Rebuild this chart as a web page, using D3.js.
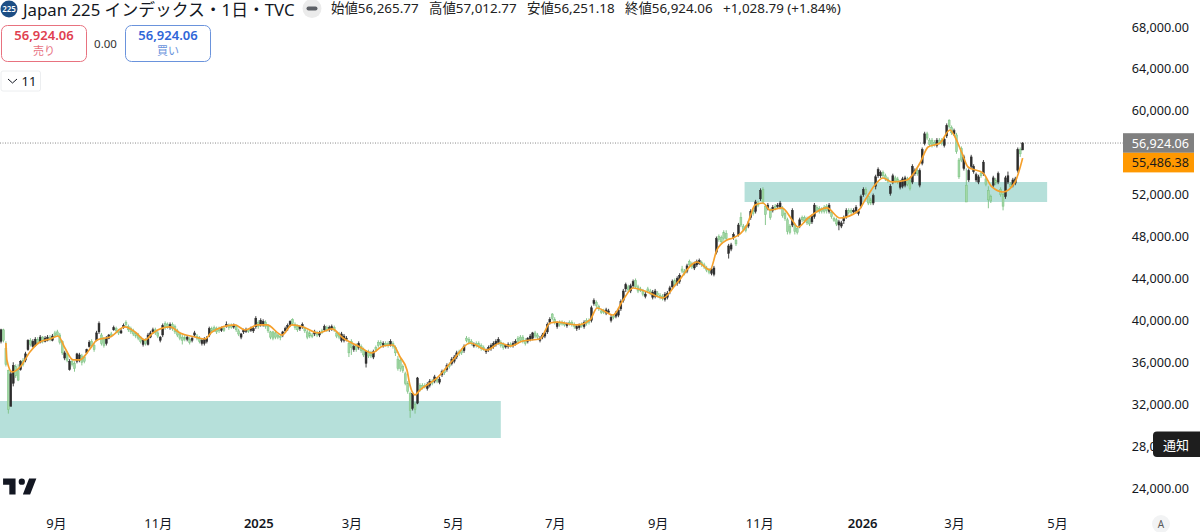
<!DOCTYPE html>
<html lang="ja"><head><meta charset="utf-8">
<style>html,body{margin:0;padding:0;background:#fff;overflow:hidden}svg{display:block}text{font-family:"Noto Sans","Noto Sans CJK JP",sans-serif}</style>
<script src="https://cdn.jsdelivr.net/npm/d3@7"></script></head><body><svg id="c" width="1200" height="532"></svg>
<script>
// prices in hundreds of yen, one entry per trading day
const opens=[380,391,373,352,318,340,356,352,353,362,362,372,381,375,376,382,379,384,380,381,
384,381,388,389,386,380,364,368,353,361,359,361,362,366,365,369,375,380,376,381,
389,386,383,378,383,387,391,392,390,388,393,398,394,392,390,388,386,384,377,381,
377,384,389,391,388,381,386,397,396,393,396,394,390,387,384,384,382,382,381,386,
385,383,378,378,380,386,392,393,392,392,391,392,395,395,395,394,394,390,384,389,
390,391,391,390,394,398,396,396,398,394,389,389,388,386,385,386,390,392,396,401,
396,394,392,394,392,389,388,386,387,388,386,390,391,393,391,392,393,388,387,381,
381,382,378,380,372,376,374,375,372,359,370,369,365,374,379,379,376,378,378,377,
378,374,363,362,356,349,340,330,316,320,321,338,338,338,335,338,342,342,344,341,
348,352,353,358,359,361,365,370,371,371,383,382,380,376,378,378,376,374,370,372,
373,375,377,379,379,377,375,375,377,376,378,383,384,384,381,380,382,383,388,386,
381,384,385,389,398,406,401,394,398,398,397,395,398,398,396,392,393,396,394,400,
400,400,416,417,413,409,409,407,408,400,404,404,405,411,419,430,432,428,433,438,
432,430,428,423,430,428,422,423,426,424,423,420,422,428,432,438,435,437,449,447,
447,456,454,450,453,454,455,453,450,448,445,444,465,480,479,484,483,464,468,479,
476,482,498,490,489,490,498,505,504,512,516,525,509,507,505,505,509,509,508,507,
502,496,490,491,491,488,490,498,498,497,497,494,499,508,507,506,508,509,504,503,
497,496,491,490,495,499,505,505,504,504,502,509,520,525,518,515,512,528,538,538,
541,538,535,521,532,536,535,527,528,529,535,534,532,540,543,529,550,569,578,572,
572,570,567,572,572,567,576,591,584,578,577,553,564,545,529,534,547,542,534,532,
540,540,535,524,518,529,534,532,525,520,518,532,530,529,531,543,563,562.66];
const closes=[391,381,358,315,349,357,347,343,361,358,368,381,377,380,382,379,384,380,383,384,
382,385,385,386,379,369,369,362,361,358,354,368,367,360,361,372,379,376,372,388,
397,378,376,383,386,386,393,390,388,390,395,396,391,389,387,385,383,380,381,378,
386,388,391,388,385,384,395,393,394,396,392,389,386,383,381,382,384,379,383,388,
383,380,381,382,383,392,390,391,389,390,392,391,396,393,394,395,391,387,387,391,
391,390,392,392,402,394,400,399,394,390,384,383,384,384,384,389,392,395,399,397,
393,391,394,396,390,384,385,385,389,386,388,389,394,391,393,394,391,385,384,387,
385,383,369,374,375,372,378,371,367,370,366,366,370,372,376,377,378,377,376,380,
375,369,354,354,352,340,332,314,330,315,345,334,336,337,339,342,340,346,342,344,
351,350,357,356,363,365,369,368,369,375,381,379,378,377,376,375,373,373,372,374,
376,378,380,382,376,374,376,377,376,378,380,380,381,380,378,383,385,388,385,384,
383,386,388,396,401,402,398,398,396,397,396,397,397,396,394,394,395,395,398,397,
398,412,419,414,411,408,408,410,409,403,403,407,410,418,428,434,429,433,437,432,
428,429,425,425,428,426,427,428,424,422,421,425,426,431,437,434,440,443,447,445,
452,453,451,454,456,457,453,451,448,446,449,450,478,477,475,478,478,471,472,482,
473,491,491,487,486,493,504,502,513,510,524,513,501,510,498,508,507,510,512,500,
497,485,484,505,485,484,496,496,495,493,492,499,510,505,504,504,504,505,510,499,
496,492,494,493,498,505,503,503,505,508,504,518,525,521,512,512,519,537,544,541,
538,535,533,528,538,533,532,532,535,536,530,526,547,543,540,543,563,578,574,568,
567,568,572,570,569,573,586,585,579,581,561,537,553,556,513,543,556,547,539,537,
538,551,530,515,514,536,531,540,520,509,536,538,528,534,535,563,558.95,569.24];
const highs=[392,392,380,353,352,360,358,358,362,364,370,382,383,382,384,384,386,385,385,386,
386,387,390,391,388,381,371,370,363,363,361,369,369,368,367,373,381,382,378,390,
399,388,384,385,387,389,395,394,391,392,397,400,396,394,392,389,388,385,382,383,
388,390,393,393,390,385,397,399,398,398,398,396,392,389,386,386,386,384,384,390,
387,385,383,384,385,394,394,395,394,394,394,394,399,397,397,397,396,392,388,392,
393,392,394,394,404,400,402,401,400,396,390,390,390,387,387,390,394,397,400,402,
398,396,395,398,394,391,390,388,391,390,390,392,396,395,395,396,395,390,389,389,
387,385,380,382,377,378,380,377,374,371,372,371,372,376,381,381,380,380,380,382,
380,376,366,364,358,351,342,332,332,322,346,340,340,340,341,344,344,348,346,346,
353,354,359,360,365,367,371,372,373,377,385,384,382,379,380,380,378,376,373,376,
378,380,382,384,381,379,377,379,379,380,382,385,386,386,383,384,387,389,390,388,
385,388,390,398,403,407,403,399,400,400,399,398,400,400,398,396,397,398,400,402,
402,414,421,419,415,411,411,412,411,405,406,409,412,420,430,436,434,435,439,440,
434,432,430,427,432,430,429,430,428,426,425,427,428,433,439,440,442,445,452,449,
454,458,456,456,458,459,457,455,452,450,451,452,480,482,481,486,486,473,474,484,
478,493,503,492,491,495,506,507,515,514,526,527,511,512,507,510,511,512,514,509,
504,498,492,507,493,490,498,500,500,499,499,501,512,510,509,508,510,511,512,505,
499,498,496,495,500,507,507,507,507,510,506,520,527,527,520,517,521,539,546,543,
543,540,537,530,540,538,537,534,537,538,537,536,549,545,545,545,565,580,580,574,
574,572,574,574,574,575,588,592,586,583,579,555,566,558,545,545,558,549,541,539,
542,553,537,528,520,538,536,542,527,522,538,542,532,536,537,565,565,570.13];
const lows=[378,379,356,311,318,337,345,342,352,356,360,371,375,374,375,377,378,378,379,380,
380,380,384,385,377,367,362,360,352,356,351,359,360,357,359,368,374,374,370,380,
387,376,374,376,382,384,390,388,386,387,392,394,389,387,385,383,381,378,375,376,
376,383,387,386,383,379,384,391,392,391,390,387,384,381,377,380,380,377,379,384,
381,378,376,376,378,384,388,389,387,388,389,389,393,391,392,392,389,385,382,387,
388,388,389,388,392,392,394,394,392,388,382,381,382,382,381,384,388,390,394,395,
391,389,390,392,388,382,383,383,385,384,384,387,389,389,389,390,389,383,382,379,
379,380,365,367,370,370,372,369,365,355,364,364,363,370,374,375,374,375,374,375,
373,366,352,351,350,338,330,307,314,311,320,332,334,335,333,336,338,340,340,339,
346,348,351,354,357,359,363,366,367,369,379,377,376,374,374,373,371,371,368,370,
371,373,375,377,374,372,373,373,374,374,376,378,379,378,376,378,380,381,383,382,
379,382,383,387,396,400,396,392,394,395,394,393,395,394,392,390,391,393,392,395,
396,398,414,412,409,406,406,405,407,398,401,402,403,409,417,427,427,426,431,430,
426,427,423,421,426,424,420,421,422,420,419,418,420,425,430,432,433,435,445,443,
445,451,449,448,451,453,451,449,446,444,443,442,463,475,473,476,476,459,466,477,
471,480,489,485,484,488,496,500,502,508,514,511,491,505,496,503,505,507,506,498,
495,482,482,489,482,482,488,494,493,491,490,492,497,503,502,502,502,502,502,497,
494,490,486,488,492,497,501,501,502,502,500,507,518,519,510,510,510,525,536,536,
536,533,531,519,530,531,530,525,526,527,528,524,530,538,538,527,548,567,572,566,
565,566,565,568,567,565,574,583,577,576,559,535,551,543,513,532,545,540,532,530,
536,538,528,507,512,527,529,530,518,505,516,530,526,527,529,541,556,562.51];
// moving-average line: bar number and level (hundreds of yen)
const maBars=[2,2.4,4.5,7.8,11.8,15.9,20,23.3,26.1,29.4,32.2,36.3,39.2,44.5,50.6,54.7,58.8,62,69,73.1,79.2,83.3,86.1,95.5,99.6,104.9,108.6,114.7,118.8,123.3,129.4,135.1,139.6,146.5,151.4,155.9,160,162.9,165.7,166.9,169,171,178,184.5,191.4,198.4,203.7,207.8,213,220,224.1,226.9,235.1,240.4,243.3,249.8,253.9,258,263.7,270.2,275.9,284.1,289.4,292.2,296.3,298.8,304.5,307.8,311,313.9,318.8,322.9,325.3,329.4,337.1,342.4,349.8,352.7,356.7,360,363.7,369.8,375.1,378.4,383.3,387.3,389.4,392.2,394.7,400.8,404.5,409,413.9,417];
const maValues=[378.4,362.2,350.7,355.5,369.8,379.4,382.2,385.1,373.6,362.2,362.2,372.7,381.3,384.1,393.7,388.9,381.3,388,393.7,388,384.1,382.2,388.9,395.6,390.8,395.6,395.6,386,395.6,393.7,388,391.8,383.2,374.6,368.9,375.5,376.5,365,352.6,338.3,328.8,333.5,345,362.2,378.4,371.7,378.4,375.5,380.3,382.2,397.5,398.4,395.6,400.4,411.8,405.1,419.4,430.9,427.1,421.4,435.7,455.7,448.1,467.2,476.7,478.6,491,510.1,512,505.3,507.3,495.8,489.1,497.7,507.3,497.7,504.4,514.9,529.2,535.9,532.1,534,550.2,565.5,569.3,581.7,575,559.8,546.4,540.7,527.3,522.5,532.1,554.86];
const priceTicks=[24000,28000,32000,36000,40000,44000,48000,52000,56000,60000,64000,68000];
const hiddenTicks=[56000];
const timeBars=[22.4,64,105,143,184.5,226,268,309.5,351.5,389,431];
const timeLabels=["9月","11月","2025","3月","5月","7月","9月","11月","2026","3月","5月"];
const boxStarts=[-2,303.5];const boxEnds=[204,427];const boxTops=[32304,53207];const boxBottoms=[28772,51298];
const lastPrice=56924.06, maLast=55486.38;

const svg=d3.select("#c");
const x=d3.scaleLinear().domain([0,417]).range([1,1022.65]);
const y=d3.scaleLinear().domain([24000,68000]).range([488,27]);
const fmt=d3.format(",.2f");
const font12=12.6;

// zones
svg.selectAll("rect.zone").data(boxStarts).join("rect").attr("class","zone")
 .attr("x",(d)=>Math.max(0,x(d))).attr("y",(d,i)=>y(boxTops[i]))
 .attr("width",(d,i)=>x(boxEnds[i])-Math.max(0,x(d))).attr("height",(d,i)=>y(boxBottoms[i])-y(boxTops[i]))
 .attr("fill","#b6e0da");
// last price dotted line
svg.append("line").attr("x1",0).attr("x2",1123).attr("y1",y(lastPrice)).attr("y2",y(lastPrice))
 .attr("stroke","#8a8a8a").attr("stroke-width",1).attr("stroke-dasharray","1 1.5");

// candles
const up="#2d2d2d", dnFill="#a2d8a5", dnLine="#7cc182";
const g=svg.append("g");
g.selectAll("line").data(opens).join("line")
 .attr("x1",(d,i)=>x(i)).attr("x2",(d,i)=>x(i))
 .attr("y1",(d,i)=>y(highs[i]*100)).attr("y2",(d,i)=>y(lows[i]*100))
 .attr("stroke",(d,i)=>closes[i]>=d?up:dnLine).attr("stroke-width",0.9);
g.selectAll("rect").data(opens).join("rect")
 .attr("x",(d,i)=>x(i)-0.95).attr("width",1.9)
 .attr("y",(d,i)=>y(Math.max(d,closes[i])*100))
 .attr("height",(d,i)=>Math.max(1.5,Math.abs(y(d*100)-y(closes[i]*100))))
 .attr("fill",(d,i)=>closes[i]>=d?up:dnFill)
 .attr("stroke",(d,i)=>closes[i]>=d?up:dnLine).attr("stroke-width",0.5);

// moving average
svg.append("path").attr("fill","none").attr("stroke","#f5a02c").attr("stroke-width",1.7).attr("stroke-linejoin","round")
 .attr("d",d3.line().x((d,i)=>x(maBars[i])).y(d=>y(d*100)).curve(d3.curveMonotoneX)(maValues));

// price axis
const ya=svg.append("g").attr("transform","translate(1189,0)").call(d3.axisLeft(y).tickValues(priceTicks.filter(t=>!hiddenTicks.includes(t))).tickSize(0).tickFormat(fmt));
ya.select(".domain").remove();
ya.selectAll("text").attr("x",0).attr("font-size",font12).attr("fill","#131722").style("font-family",'"Noto Sans"');
// time axis
const xa=svg.append("g").attr("transform","translate(0,516)").call(d3.axisBottom(x).tickValues(timeBars).tickSize(0).tickFormat((d,i)=>timeLabels[i]));
xa.select(".domain").remove();
xa.selectAll("text").attr("y",3).attr("font-size",13).attr("fill","#131722").style("font-weight",(d,i)=>/^20/.test(timeLabels[i])?"600":"400");

// price tags
function tag(v,yy,bg,fg){svg.append("rect").attr("x",1123).attr("y",yy).attr("width",71).attr("height",19.6).attr("fill",bg);
 svg.append("text").attr("x",1189).attr("y",yy+10).attr("dy","0.36em").attr("text-anchor","end").attr("font-size",font12).attr("fill",fg).text(fmt(v));}
tag(lastPrice,133.2,"#808080","#fff");tag(maLast,152.8,"#ff9800","#1a1a1a");

// alert tooltip
svg.append("path").attr("d","M1200 431.5H1157a4 4 0 0 0-4 4V453a4 4 0 0 0 4 4H1200Z").attr("fill","#1e1e1e");
svg.append("text").attr("x",1176).attr("y",445).attr("dy","0.36em").attr("text-anchor","middle").attr("font-size",13).attr("fill","#fff").text("通知");
// auto button
svg.append("circle").attr("cx",1161).attr("cy",524).attr("r",9).attr("fill","#f2f3f4");
svg.append("text").attr("x",1161).attr("y",524).attr("dy","0.36em").attr("text-anchor","middle").attr("font-size",10).attr("fill","#5a5a5a").text("A");

// logo
svg.append("path").attr("transform","translate(1,472) scale(1.04,1.07)").attr("fill","#131722")
 .attr("d","M14 6H2v6h6v9h6V6zm14 15h-7l6-15h7l-6 15zm-8-9a3 3 0 1 0 0-6 3 3 0 0 0 0 6z");

// header
svg.append("circle").attr("cx",9).attr("cy",9).attr("r",8.5).attr("fill","#1c4e85");
svg.append("text").attr("x",9).attr("y",9).attr("dy","0.36em").attr("text-anchor","middle").attr("font-size",8).attr("font-weight",600).attr("fill","#fff").text("225");
svg.append("text").attr("x",23).attr("y",10).attr("dy","0.36em").attr("font-size",16.8).attr("fill","#131722").text("Japan 225 インデックス・1日・TVC");
svg.append("circle").attr("cx",312).attr("cy",8.5).attr("r",9.5).attr("fill","#ebebeb");
svg.append("rect").attr("x",306.5).attr("y",6.5).attr("width",11).attr("height",4).attr("rx",2).attr("fill","#5d6066");
const ohlcLabels=[["始値","56,265.77",331],["高値","57,012.77",429],["安値","56,251.18",527],["終値","56,924.06",625]];
ohlcLabels.forEach(([a,b,xx])=>svg.append("text").attr("x",xx).attr("y",8).attr("dy","0.36em").attr("font-size",13.4).attr("fill","#222").text(a+b));
svg.append("text").attr("x",723).attr("y",8).attr("dy","0.36em").attr("font-size",13.4).attr("fill","#222").text("+1,028.79 (+1.84%)");

// buy/sell boxes
function trade(xx,w,col,col2,label){svg.append("rect").attr("x",xx).attr("y",25.5).attr("width",w).attr("height",36).attr("rx",6).attr("fill","#fff").attr("stroke",col2);
 svg.append("text").attr("x",xx+w/2).attr("y",35.5).attr("dy","0.36em").attr("text-anchor","middle").attr("font-size",13).attr("font-weight",600).attr("fill",col).text("56,924.06");
 svg.append("text").attr("x",xx+w/2).attr("y",51).attr("dy","0.36em").attr("text-anchor","middle").attr("font-size",11).attr("fill",col2).text(label);}
trade(1.5,85,"#e0404f","#e8727f","売り");trade(125.5,85,"#2f66d8","#6a93dc","買い");
svg.append("text").attr("x",105.5).attr("y",44).attr("dy","0.36em").attr("text-anchor","middle").attr("font-size",11.5).attr("fill","#333").text("0.00");
svg.append("rect").attr("x",1).attr("y",71).attr("width",39.5).attr("height",20).attr("rx",2).attr("fill","#fff").attr("stroke","#eceef0");
svg.append("path").attr("d","M8 79l4.5 4 4.5-4").attr("fill","none").attr("stroke","#131722").attr("stroke-width",1);
svg.append("text").attr("x",29).attr("y",81).attr("dy","0.36em").attr("text-anchor","middle").attr("font-size",13).attr("fill","#131722").text("11");
</script></body></html>
